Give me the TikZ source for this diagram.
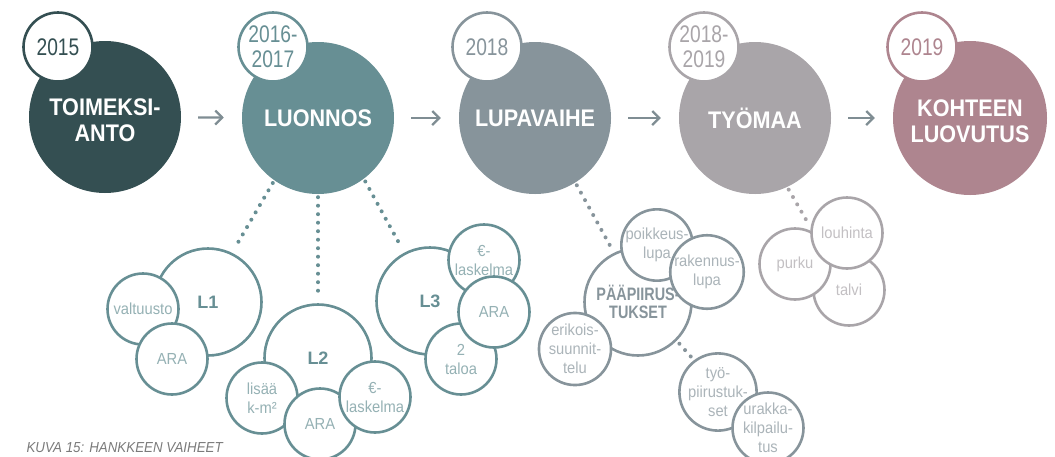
\documentclass[tikz,border=0pt]{standalone}
\usepackage{fontspec}
\setmainfont{Liberation Sans}
\newfontfamily\headfont{Liberation Sans}[FakeStretch=0.9]
\newfontfamily\yearfont{Liberation Sans}[FakeStretch=0.8]
\newfontfamily\subfont{Liberation Sans}[FakeStretch=0.92]
\newfontfamily\grpfont{Liberation Sans}[FakeStretch=0.8]
\usetikzlibrary{arrows.meta}
\definecolor{toimcol}{HTML}{344F52}
\definecolor{luoncol}{HTML}{678F94}
\definecolor{lupacol}{HTML}{87949B}
\definecolor{tyomcol}{HTML}{A9A5A9}
\definecolor{kohdcol}{HTML}{AE858F}
\definecolor{arrcol}{HTML}{7F8D93}
\definecolor{capcol}{HTML}{7A7A7A}
\newcommand\lowtext[1]{\raisebox{-6pt}[\height][\depth]{%
    \begin{tabular}{@{}c@{}}#1\end{tabular}}}
\begin{document}
\begin{tikzpicture}[x=1pt,y=-1pt,
        phase/.style={circle,fill=#1,inner sep=0pt,minimum size=152pt,
            text=white,align=center,
            font=\headfont\bfseries\fontsize{24}{26}\selectfont},
        year/.style={circle,draw=#1,fill=white,line width=2.6pt,
            minimum size=69pt,inner sep=0pt,text=#1,align=center,
            font=\yearfont\fontsize{24}{25}\selectfont},
        sub/.style={circle,draw=#1,fill=white,line width=2.6pt,
            minimum size=71pt,inner sep=0pt,text=#1!70!white,align=center,
            font=\subfont\fontsize{16}{19}\selectfont},
        group/.style={sub=#1,minimum size=107pt,text=#1,
            font=\bfseries\fontsize{18}{18}\selectfont},
        flow/.style={-{Straight Barb[length=7pt,width=14pt]},draw=arrcol,
            line width=2.2pt,shorten <=17pt,shorten >=18pt},
        dots/.style={draw=#1,line width=4pt,line cap=round,
            dash pattern=on 0pt off 8.5pt,shorten <=3pt,shorten >=6pt}]
    \useasboundingbox (0,0) rectangle (1055,456);

    % phases
    \node[phase=toimcol] (toim) at (105,117) {\lowtext{TOIMEKSI-\\ANTO}};
    \node[phase=luoncol] (luon) at (318,118) {LUONNOS};
    \node[phase=lupacol] (lupa) at (535,118) {LUPAVAIHE};
    \node[phase=tyomcol] (tyom) at (755,118) {TYÖMAA};
    \node[phase=kohdcol,minimum size=154pt] (kohd) at (970,118)
        {\lowtext{KOHTEEN\\LUOVUTUS}};

    \draw[flow] (toim) -- (luon);
    \draw[flow] (luon) -- (lupa);
    \draw[flow] (lupa) -- (tyom);
    \draw[flow] (tyom) -- (kohd);

    \node[year=toimcol] (ytoim) at (58,47) {2015};
    \node[year=luoncol] (yluon) at (273,47) {2016-\\2017};
    \node[year=lupacol] (ylupa) at (487,47) {2018};
    \node[year=tyomcol] (ytyom) at (704,47) {2018-\\2019};
    \node[year=kohdcol] (ykohd) at (922,47) {2019};

    % luonnos
    \node[group=luoncol] (L1) at (208,302) {L1};
    \node[sub=luoncol] (valt) at (143,309) {valtuusto};
    \node[sub=luoncol] (ara1) at (172,359) {ARA};
    \node[group=luoncol] (L2) at (318,358) {L2};
    \node[sub=luoncol] (lisaa) at (262,398) {lisää\\k-m²};
    \node[sub=luoncol] (ara2) at (320,424) {ARA};
    \node[sub=luoncol] (lask2) at (375,397) {€-\\laskelma};
    \node[group=luoncol] (L3) at (430,301) {L3};
    \node[sub=luoncol] (lask3) at (484,260) {€-\\laskelma};
    \node[sub=luoncol] (taloa) at (461,359) {2\\taloa};
    \node[sub=luoncol] (ara3) at (494,312) {ARA};
    \draw[dots=luoncol] (luon.-125) -- (L1.64);
    \draw[dots=luoncol] (luon.-90) -- (L2.90);
    \draw[dots=luoncol] (luon.-53) -- (L3.118);

    % lupavaihe
    \node[group=lupacol,font=\grpfont\bfseries\fontsize{18}{18}\selectfont]
        (paa) at (638,302) {PÄÄPIIRUS-\\TUKSET};
    \node[sub=lupacol] (poik) at (657,245) {poikkeus-\\lupa};
    \node[sub=lupacol] (rak) at (707,272) {rakennus-\\lupa};
    \node[sub=lupacol] (erik) at (575,349) {erikois-\\suunnit-\\telu};
    \node[sub=lupacol] (tyop) at (718,392) {työ-\\piirustuk-\\set};
    \node[sub=lupacol] (urak) at (768,428) {urakka-\\kilpailu-\\tus};
    \draw[dots=lupacol] (lupa.-58) -- (paa.116);
    \draw[dots=lupacol,shorten <=4pt,shorten >=3pt] (paa.-45) -- (tyop.127);

    % tyomaa
    \node[sub=tyomcol] (talvi) at (849,290) {talvi};
    \node[sub=tyomcol] (purku) at (795,264) {purku};
    \node[sub=tyomcol] (louh) at (847,233) {louhinta};
    \coordinate (tyoend) at (808,223);
    \draw[dots=tyomcol,shorten >=1pt] (tyom.-65) -- (tyoend);

    \node[anchor=base west,text=capcol,
        font=\subfont\itshape\fontsize{14.5}{15}\selectfont] (cap) at (23,452)
        {KUVA 15: HANKKEEN VAIHEET};
\end{tikzpicture}
\end{document}
